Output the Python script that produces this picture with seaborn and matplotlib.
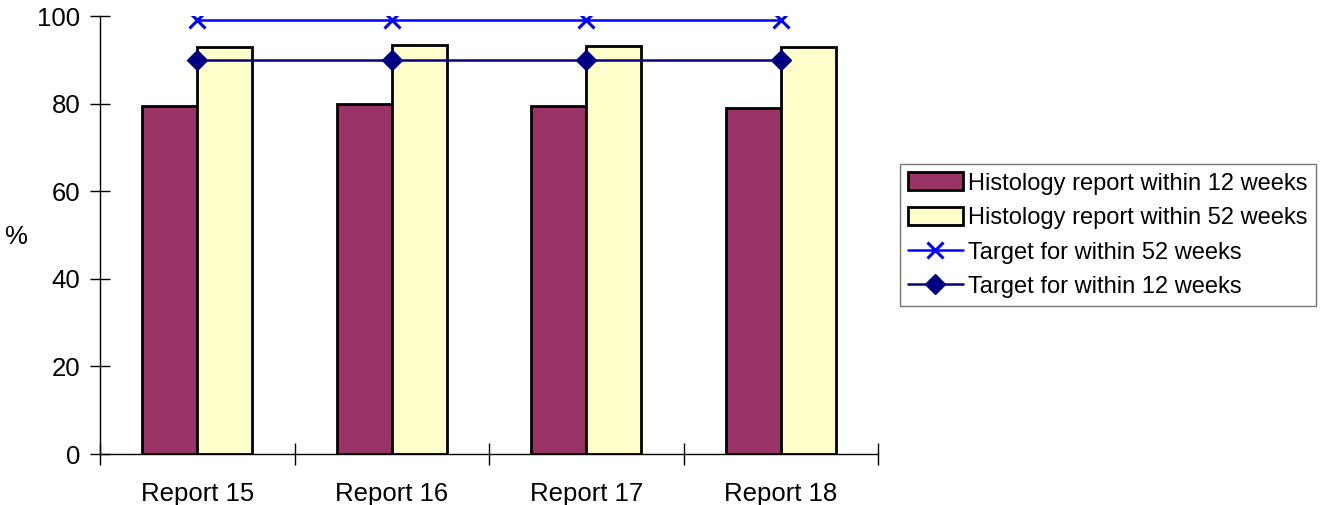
import matplotlib
matplotlib.use("Agg")
import matplotlib.pyplot as plt
import seaborn as sns
import pandas as pd
from matplotlib.lines import Line2D
from matplotlib.patches import Patch

reports = ["Report 15", "Report 16", "Report 17", "Report 18"]
within_12 = [79.5, 79.8, 79.5, 78.9]
within_52 = [92.9, 93.4, 93.2, 92.9]
target_52 = [99, 99, 99, 99]
target_12 = [90, 90, 90, 90]

series_12 = "Histology report within 12 weeks"
series_52 = "Histology report within 52 weeks"

df = pd.DataFrame({
    "report": reports * 2,
    "value": within_12 + within_52,
    "series": [series_12] * 4 + [series_52] * 4,
})

sns.set_theme(style="white")
plt.rcParams["font.family"] = ["Liberation Sans", "DejaVu Sans"]
plt.rcParams["text.color"] = "black"
plt.rcParams["xtick.color"] = "black"
plt.rcParams["ytick.color"] = "black"
plt.rcParams["axes.labelcolor"] = "black"

fig = plt.figure(figsize=(13.22, 5.05), dpi=100)
ax = fig.add_axes([100 / 1322, (505 - 454) / 505, 778 / 1322, 438 / 505])

bar_colors = {series_12: "#993366", series_52: "#FFFFCC"}
sns.barplot(data=df, x="report", y="value", hue="series", order=reports,
            hue_order=[series_12, series_52], palette=bar_colors,
            width=0.566, gap=0, edgecolor="black", linewidth=2,
            saturation=1, ax=ax, legend=False, errorbar=None)

x_style = dict(color="#0000FF", marker="x", markersize=11,
               markeredgewidth=2.2, linewidth=1.8)
d_style = dict(color="#000080", marker="D", markersize=10, linewidth=1.8)

xs = list(range(len(reports)))
ax.plot(xs, target_52, zorder=5, **x_style)
ax.plot(xs, target_12, zorder=5, **d_style)

ax.set_xlim(-0.5, 3.5)
ax.set_ylim(0, 100)
ax.set_yticks([0, 20, 40, 60, 80, 100])
ax.set_xticks(xs)
ax.set_xticklabels(reports, fontsize=18.5)
# category boundary ticks on the x axis
ax.set_xticks([i - 0.5 for i in range(len(reports) + 1)], minor=True)
ax.tick_params(axis="x", which="major", length=0, pad=20)
ax.tick_params(axis="x", which="minor", direction="inout", length=16,
               width=1, bottom=True)
ax.tick_params(axis="y", labelsize=18.5, direction="inout", length=14,
               width=1, left=True, pad=7)

ax.set_xlabel("")
ax.set_ylabel("%", fontsize=18.5, rotation=0, va="center", ha="center")
ax.yaxis.set_label_coords(-84 / 778, 0.495)

for side in ["top", "right"]:
    ax.spines[side].set_visible(False)
for side in ["left", "bottom"]:
    ax.spines[side].set_color("black")
    ax.spines[side].set_linewidth(1)
ax.grid(False)

handles = [
    Patch(facecolor="#993366", edgecolor="black", linewidth=2),
    Patch(facecolor="#FFFFCC", edgecolor="black", linewidth=2),
    Line2D([], [], **x_style),
    Line2D([], [], **d_style),
]
labels = [series_12, series_52, "Target for within 52 weeks",
          "Target for within 12 weeks"]
leg = fig.legend(handles, labels, loc="upper left",
                 bbox_to_anchor=(900 / 1322, 1 - 164 / 505),
                 fontsize=17, frameon=True, fancybox=False, shadow=False,
                 handlelength=2.3, handleheight=0.8, handletextpad=0.25,
                 labelspacing=0.52, borderpad=0.35, borderaxespad=0)
leg.get_frame().set_edgecolor("#555555")
leg.get_frame().set_linewidth(1)

fig.savefig("out.png", dpi=100)
